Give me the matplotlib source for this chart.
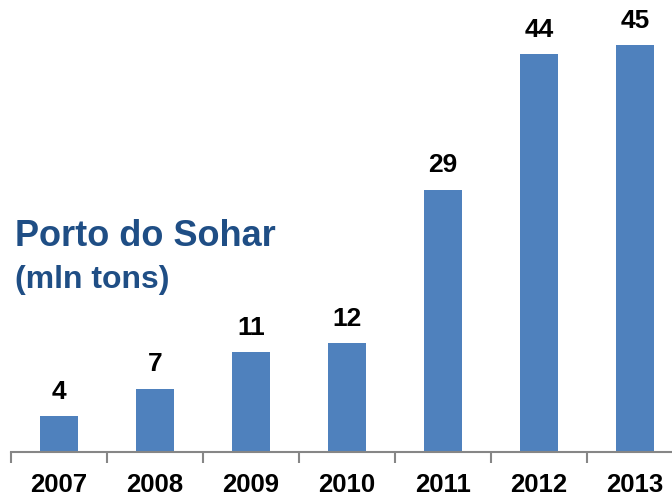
import matplotlib.pyplot as plt

years = ["2007", "2008", "2009", "2010", "2011", "2012", "2013"]
tons = [4, 7, 11, 12, 29, 44, 45]

plt.rcParams['font.family'] = ['Liberation Sans', 'DejaVu Sans']

fig = plt.figure(figsize=(6.72, 4.96), dpi=100)
# axis runs slightly past the right edge, like the source slide
ax = fig.add_axes([11 / 672, 44 / 496, 672 / 672, 452.5 / 496])

x = list(range(len(years)))
ax.bar(x, tons, width=0.4, color='#4F81BD')
for xi, v in zip(x, tons):
    ax.text(xi, v + 1.9, str(v), ha='center', va='baseline',
            fontsize=19, fontweight='bold', color='black')

ax.set_xlim(-0.5, len(years) - 0.5)
ax.set_ylim(0, 50)
ax.set_yticks([])
ax.set_xticks([i - 0.5 for i in range(len(years) + 1)])
ax.set_xticklabels([])
ax.set_xticks(x, minor=True)
ax.set_xticklabels(years, minor=True, fontsize=18.5, fontweight='bold')
ax.tick_params(axis='x', which='major', length=8, width=1.5, color='#868686', direction='out')
ax.tick_params(axis='x', which='minor', length=0, pad=15)
for s in ['top', 'right', 'left']:
    ax.spines[s].set_visible(False)
ax.spines['bottom'].set_color('#868686')
ax.spines['bottom'].set_linewidth(1.5)

fig.text(15 / 672, 1 - 246 / 496, "Porto do Sohar", fontsize=26, fontweight='bold',
         color='#1F4E85', ha='left', va='baseline')
fig.text(15 / 672, 1 - 288 / 496, "(mln tons)", fontsize=23, fontweight='bold',
         color='#1F4E85', ha='left', va='baseline')

fig.savefig('out.png', dpi=100)
